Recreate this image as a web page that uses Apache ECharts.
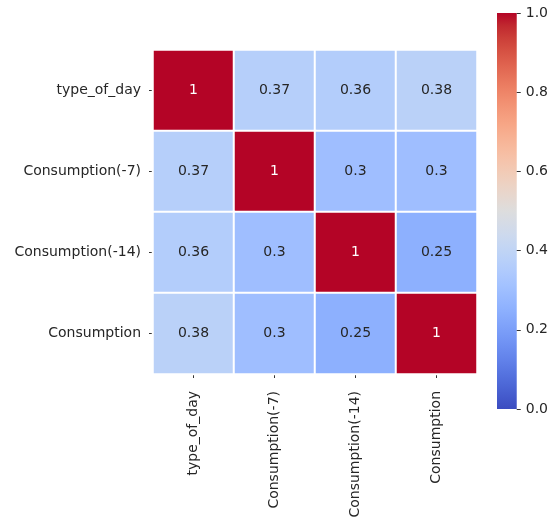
<!DOCTYPE html>
<html>
<head>
<meta charset="utf-8">
<script src="https://cdn.jsdelivr.net/npm/echarts@6/dist/echarts.min.js"></script>
<style>html,body{margin:0;padding:0;background:#fff;}#c{width:551px;height:522px;}</style>
</head>
<body>
<div id="c"></div>
<script>
var categories = ['type_of_day', 'Consumption(-7)', 'Consumption(-14)', 'Consumption'];
var row_type_of_day = [1, 0.37, 0.36, 0.38];
var row_cons7 = [0.37, 1, 0.3, 0.3];
var row_cons14 = [0.36, 0.3, 1, 0.25];
var row_cons = [0.38, 0.3, 0.25, 1];
var rows = [row_type_of_day, row_cons7, row_cons14, row_cons];
var colorbarMin = 0, colorbarMax = 1, colorbarStep = 0.2;

// coolwarm colormap (Moreland), 33 stops
var coolwarmRGB = [
 [59,76,192],[68,90,204],[77,104,215],[87,117,225],[98,130,234],[108,142,241],[119,154,247],[130,165,251],
 [141,176,254],[152,185,255],[163,194,255],[174,201,253],[184,208,249],[194,213,244],[204,217,238],[213,219,230],
 [221,221,221],[229,216,209],[236,211,197],[241,204,184],[245,196,172],[247,187,159],[247,177,147],[247,166,134],
 [244,154,123],[241,141,111],[236,127,99],[229,112,88],[222,96,77],[213,80,66],[203,62,56],[192,40,47],[180,4,38]
];
var coolwarm = coolwarmRGB.map(function(c){return 'rgb('+c.join(',')+')';});
var gradStops = coolwarm.map(function(c, i){ return {offset: i/(coolwarm.length-1), color: c}; });

var data = [];
rows.forEach(function(r, yi){
  r.forEach(function(v, xi){
    data.push({value:[xi, yi, v], label:{color: v > 0.6 ? '#ffffff' : '#262626'}});
  });
});

var font = 'DejaVu Sans';
var chart = echarts.init(document.getElementById('c'));
chart.setOption({
  backgroundColor: '#fff',
  animation: false,
  grid: [
    {left:153, top:50, width:324, height:324},
    {left:497, top:13, width:20, height:396}
  ],
  xAxis: [
    {type:'category', data:categories, gridIndex:0,
     axisLine:{show:false}, splitLine:{show:false},
     axisTick:{show:true, alignWithLabel:true, length:4, lineStyle:{color:'#333'}},
     axisLabel:{rotate:90, margin:17, fontSize:14, fontFamily:font, color:'#262626'}},
    {type:'category', gridIndex:1, show:false, data:['']}
  ],
  yAxis: [
    {type:'category', data:categories, gridIndex:0, inverse:true,
     axisLine:{show:false}, splitLine:{show:false},
     axisTick:{show:true, alignWithLabel:true, length:4, lineStyle:{color:'#333'}},
     axisLabel:{margin:12, fontSize:14, fontFamily:font, color:'#262626'}},
    {type:'value', gridIndex:1, position:'right', min:colorbarMin, max:colorbarMax, interval:colorbarStep, z:10,
     axisLine:{show:false}, splitLine:{show:false},
     axisTick:{show:true, length:4, inside:false, lineStyle:{color:'#333333', width:1}},
     axisLabel:{margin:9, fontSize:14, fontFamily:font, color:'#262626',
       formatter:function(v){return v.toFixed(1);}}}
  ],
  visualMap: {
    type:'continuous', min:colorbarMin, max:colorbarMax, seriesIndex:0, show:false,
    inRange:{color:coolwarm}
  },
  series: [{
    type:'heatmap', xAxisIndex:0, yAxisIndex:0,
    data:data,
    label:{show:true, fontSize:14, fontFamily:font,
      formatter:function(p){return String(p.value[2]);}},
    itemStyle:{borderColor:'#ffffff', borderWidth:2}
  }, {
    type:'bar', xAxisIndex:1, yAxisIndex:1,
    data:[colorbarMax], barWidth:'100%', silent:true,
    itemStyle:{color: new echarts.graphic.LinearGradient(0, 1, 0, 0, gradStops)}
  }]
});
</script>
</body>
</html>
